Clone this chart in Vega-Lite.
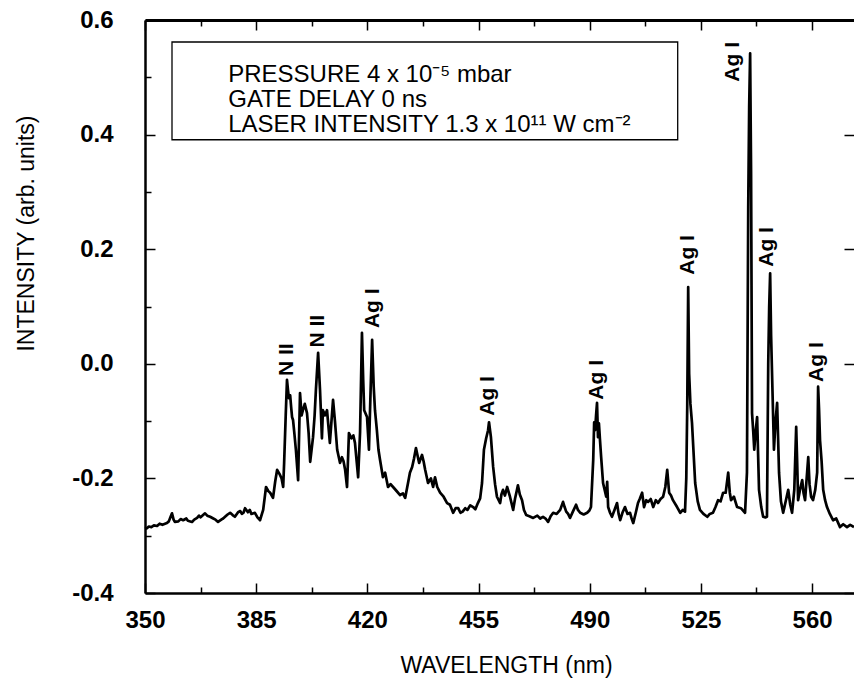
{
  "$schema": "https://vega.github.io/schema/vega-lite/v6.json",
  "width": 709,
  "height": 573,
  "autosize": {"type": "none"},
  "padding": {"left": 145, "top": 20, "right": 0, "bottom": 91},
  "background": "white",
  "config": {
    "view": {"stroke": null},
    "axis": {"grid": false, "tickColor": "black", "domainColor": "black", "labelColor": "black", "titleColor": "black", "labelFlush": false, "labelOverlap": false}
  },
  "datasets": {
    "spectrum": [
      {"nm": 350.0, "v": -0.288}, {"nm": 350.6, "v": -0.287}, {"nm": 351.2, "v": -0.284}, {"nm": 352.0, "v": -0.285},
      {"nm": 352.8, "v": -0.282}, {"nm": 353.8, "v": -0.283}, {"nm": 354.6, "v": -0.279}, {"nm": 355.5, "v": -0.281},
      {"nm": 356.9, "v": -0.278}, {"nm": 357.5, "v": -0.275}, {"nm": 358.0, "v": -0.268}, {"nm": 358.5, "v": -0.261},
      {"nm": 359.0, "v": -0.272}, {"nm": 359.4, "v": -0.276}, {"nm": 360.5, "v": -0.275}, {"nm": 361.2, "v": -0.271},
      {"nm": 362.0, "v": -0.273}, {"nm": 363.0, "v": -0.27}, {"nm": 363.5, "v": -0.274}, {"nm": 364.8, "v": -0.276},
      {"nm": 365.5, "v": -0.272}, {"nm": 366.4, "v": -0.269}, {"nm": 367.0, "v": -0.265}, {"nm": 367.5, "v": -0.268},
      {"nm": 368.9, "v": -0.261}, {"nm": 369.6, "v": -0.265}, {"nm": 370.5, "v": -0.267}, {"nm": 371.5, "v": -0.27},
      {"nm": 372.2, "v": -0.272}, {"nm": 373.0, "v": -0.276}, {"nm": 374.0, "v": -0.272}, {"nm": 374.6, "v": -0.27},
      {"nm": 375.2, "v": -0.267}, {"nm": 376.0, "v": -0.263}, {"nm": 376.8, "v": -0.26}, {"nm": 377.6, "v": -0.264},
      {"nm": 378.3, "v": -0.267}, {"nm": 379.3, "v": -0.259}, {"nm": 380.0, "v": -0.257}, {"nm": 380.5, "v": -0.262},
      {"nm": 381.0, "v": -0.26}, {"nm": 381.5, "v": -0.252}, {"nm": 382.4, "v": -0.259}, {"nm": 383.0, "v": -0.255},
      {"nm": 383.5, "v": -0.262}, {"nm": 384.6, "v": -0.26}, {"nm": 385.4, "v": -0.268}, {"nm": 386.2, "v": -0.273},
      {"nm": 387.2, "v": -0.255}, {"nm": 388.1, "v": -0.215}, {"nm": 388.8, "v": -0.222}, {"nm": 389.4, "v": -0.225},
      {"nm": 390.3, "v": -0.234}, {"nm": 391.0, "v": -0.205}, {"nm": 391.6, "v": -0.185}, {"nm": 392.5, "v": -0.194},
      {"nm": 393.0, "v": -0.2}, {"nm": 393.5, "v": -0.215}, {"nm": 393.8, "v": -0.173}, {"nm": 394.3, "v": -0.09},
      {"nm": 394.7, "v": -0.028}, {"nm": 395.0, "v": -0.045}, {"nm": 395.3, "v": -0.06}, {"nm": 395.7, "v": -0.055},
      {"nm": 396.0, "v": -0.075}, {"nm": 396.3, "v": -0.093}, {"nm": 396.6, "v": -0.098}, {"nm": 397.0, "v": -0.12},
      {"nm": 397.5, "v": -0.15}, {"nm": 398.2, "v": -0.203}, {"nm": 398.8, "v": -0.051}, {"nm": 399.3, "v": -0.09},
      {"nm": 399.7, "v": -0.081}, {"nm": 400.3, "v": -0.07}, {"nm": 401.0, "v": -0.086}, {"nm": 401.5, "v": -0.12},
      {"nm": 402.0, "v": -0.171}, {"nm": 402.9, "v": -0.128}, {"nm": 403.4, "v": -0.09}, {"nm": 403.8, "v": -0.046},
      {"nm": 404.5, "v": 0.019}, {"nm": 405.1, "v": -0.046}, {"nm": 405.7, "v": -0.13}, {"nm": 406.0, "v": -0.081},
      {"nm": 406.7, "v": -0.09}, {"nm": 407.3, "v": -0.081}, {"nm": 408.2, "v": -0.138}, {"nm": 409.2, "v": -0.063},
      {"nm": 409.8, "v": -0.1}, {"nm": 410.5, "v": -0.15}, {"nm": 411.4, "v": -0.173}, {"nm": 412.0, "v": -0.163},
      {"nm": 412.5, "v": -0.17}, {"nm": 413.0, "v": -0.185}, {"nm": 413.6, "v": -0.215}, {"nm": 414.2, "v": -0.121},
      {"nm": 415.0, "v": -0.13}, {"nm": 415.6, "v": -0.125}, {"nm": 416.1, "v": -0.138}, {"nm": 417.1, "v": -0.198},
      {"nm": 417.7, "v": -0.12}, {"nm": 418.3, "v": 0.054}, {"nm": 418.7, "v": -0.03}, {"nm": 419.0, "v": -0.081},
      {"nm": 419.9, "v": -0.093}, {"nm": 420.5, "v": -0.15}, {"nm": 421.0, "v": -0.05}, {"nm": 421.5, "v": 0.042},
      {"nm": 422.0, "v": -0.04}, {"nm": 422.4, "v": -0.081}, {"nm": 423.0, "v": -0.116}, {"nm": 423.5, "v": -0.15},
      {"nm": 424.0, "v": -0.168}, {"nm": 424.9, "v": -0.198}, {"nm": 425.6, "v": -0.19}, {"nm": 426.5, "v": -0.215},
      {"nm": 427.3, "v": -0.21}, {"nm": 428.1, "v": -0.215}, {"nm": 429.2, "v": -0.222}, {"nm": 430.3, "v": -0.229},
      {"nm": 431.2, "v": -0.226}, {"nm": 431.9, "v": -0.234}, {"nm": 432.8, "v": -0.208}, {"nm": 433.4, "v": -0.19},
      {"nm": 434.1, "v": -0.18}, {"nm": 434.7, "v": -0.165}, {"nm": 435.3, "v": -0.147}, {"nm": 435.8, "v": -0.16},
      {"nm": 436.3, "v": -0.173}, {"nm": 437.2, "v": -0.159}, {"nm": 437.7, "v": -0.17}, {"nm": 438.2, "v": -0.185},
      {"nm": 439.1, "v": -0.208}, {"nm": 440.0, "v": -0.2}, {"nm": 440.7, "v": -0.215}, {"nm": 441.3, "v": -0.198},
      {"nm": 442.0, "v": -0.215}, {"nm": 442.9, "v": -0.225}, {"nm": 444.0, "v": -0.232}, {"nm": 445.1, "v": -0.243},
      {"nm": 446.0, "v": -0.246}, {"nm": 447.0, "v": -0.26}, {"nm": 447.8, "v": -0.252}, {"nm": 448.6, "v": -0.252},
      {"nm": 449.3, "v": -0.26}, {"nm": 450.0, "v": -0.258}, {"nm": 450.8, "v": -0.252}, {"nm": 451.5, "v": -0.255},
      {"nm": 452.4, "v": -0.247}, {"nm": 453.3, "v": -0.25}, {"nm": 454.0, "v": -0.254}, {"nm": 454.8, "v": -0.243},
      {"nm": 455.5, "v": -0.235}, {"nm": 456.1, "v": -0.208}, {"nm": 456.7, "v": -0.15}, {"nm": 457.4, "v": -0.13},
      {"nm": 458.0, "v": -0.116}, {"nm": 458.3, "v": -0.102}, {"nm": 458.9, "v": -0.128}, {"nm": 459.6, "v": -0.18},
      {"nm": 460.2, "v": -0.21}, {"nm": 460.8, "v": -0.232}, {"nm": 461.8, "v": -0.243}, {"nm": 462.2, "v": -0.228},
      {"nm": 462.7, "v": -0.22}, {"nm": 463.3, "v": -0.23}, {"nm": 464.0, "v": -0.215}, {"nm": 464.9, "v": -0.232},
      {"nm": 465.9, "v": -0.255}, {"nm": 466.5, "v": -0.235}, {"nm": 467.1, "v": -0.22}, {"nm": 467.4, "v": -0.212},
      {"nm": 468.0, "v": -0.228}, {"nm": 468.7, "v": -0.238}, {"nm": 469.3, "v": -0.255}, {"nm": 470.0, "v": -0.264},
      {"nm": 471.0, "v": -0.266}, {"nm": 472.2, "v": -0.269}, {"nm": 473.5, "v": -0.265}, {"nm": 474.4, "v": -0.27},
      {"nm": 475.3, "v": -0.267}, {"nm": 476.1, "v": -0.27}, {"nm": 476.9, "v": -0.276}, {"nm": 477.7, "v": -0.266},
      {"nm": 478.5, "v": -0.26}, {"nm": 479.6, "v": -0.262}, {"nm": 480.7, "v": -0.255}, {"nm": 481.6, "v": -0.241},
      {"nm": 482.1, "v": -0.25}, {"nm": 482.6, "v": -0.258}, {"nm": 483.2, "v": -0.262}, {"nm": 483.8, "v": -0.269},
      {"nm": 484.7, "v": -0.258}, {"nm": 485.7, "v": -0.246}, {"nm": 486.3, "v": -0.255}, {"nm": 487.0, "v": -0.26},
      {"nm": 488.1, "v": -0.263}, {"nm": 489.2, "v": -0.26}, {"nm": 489.9, "v": -0.256}, {"nm": 490.4, "v": -0.25},
      {"nm": 491.1, "v": -0.168}, {"nm": 491.4, "v": -0.102}, {"nm": 491.7, "v": -0.116}, {"nm": 492.0, "v": -0.09},
      {"nm": 492.3, "v": -0.068}, {"nm": 492.6, "v": -0.128}, {"nm": 492.9, "v": -0.104}, {"nm": 493.2, "v": -0.13},
      {"nm": 493.6, "v": -0.163}, {"nm": 494.2, "v": -0.208}, {"nm": 495.2, "v": -0.232}, {"nm": 495.5, "v": -0.206},
      {"nm": 495.8, "v": -0.25}, {"nm": 496.4, "v": -0.26}, {"nm": 497.0, "v": -0.267}, {"nm": 497.8, "v": -0.255},
      {"nm": 498.6, "v": -0.243}, {"nm": 499.1, "v": -0.262}, {"nm": 499.6, "v": -0.273}, {"nm": 500.3, "v": -0.26},
      {"nm": 501.1, "v": -0.25}, {"nm": 501.9, "v": -0.262}, {"nm": 502.7, "v": -0.26}, {"nm": 503.2, "v": -0.27},
      {"nm": 503.7, "v": -0.278}, {"nm": 504.5, "v": -0.26}, {"nm": 505.2, "v": -0.243}, {"nm": 505.8, "v": -0.235},
      {"nm": 506.5, "v": -0.225}, {"nm": 507.1, "v": -0.25}, {"nm": 507.8, "v": -0.238}, {"nm": 508.4, "v": -0.241},
      {"nm": 509.2, "v": -0.236}, {"nm": 510.0, "v": -0.25}, {"nm": 510.8, "v": -0.238}, {"nm": 511.5, "v": -0.243},
      {"nm": 512.3, "v": -0.236}, {"nm": 513.1, "v": -0.232}, {"nm": 513.8, "v": -0.215}, {"nm": 514.4, "v": -0.185},
      {"nm": 515.0, "v": -0.225}, {"nm": 515.6, "v": -0.23}, {"nm": 516.2, "v": -0.238}, {"nm": 517.5, "v": -0.25},
      {"nm": 518.5, "v": -0.26}, {"nm": 519.3, "v": -0.255}, {"nm": 520.0, "v": -0.258}, {"nm": 520.4, "v": -0.2},
      {"nm": 520.7, "v": -0.075}, {"nm": 521.0, "v": 0.134}, {"nm": 521.3, "v": -0.017}, {"nm": 521.7, "v": -0.07},
      {"nm": 522.2, "v": -0.103}, {"nm": 523.2, "v": -0.208}, {"nm": 524.0, "v": -0.24}, {"nm": 524.7, "v": -0.255},
      {"nm": 525.8, "v": -0.262}, {"nm": 527.0, "v": -0.267}, {"nm": 527.8, "v": -0.262}, {"nm": 528.8, "v": -0.26},
      {"nm": 529.6, "v": -0.25}, {"nm": 530.4, "v": -0.238}, {"nm": 531.2, "v": -0.24}, {"nm": 532.0, "v": -0.225},
      {"nm": 532.8, "v": -0.225}, {"nm": 533.6, "v": -0.19}, {"nm": 534.1, "v": -0.225}, {"nm": 534.5, "v": -0.238},
      {"nm": 535.4, "v": -0.232}, {"nm": 536.4, "v": -0.25}, {"nm": 537.6, "v": -0.252}, {"nm": 538.9, "v": -0.26},
      {"nm": 539.5, "v": -0.19}, {"nm": 539.9, "v": 0.274}, {"nm": 540.2, "v": 0.45}, {"nm": 540.5, "v": 0.542},
      {"nm": 540.8, "v": 0.333}, {"nm": 541.1, "v": -0.086}, {"nm": 541.5, "v": -0.12}, {"nm": 541.8, "v": -0.15},
      {"nm": 542.2, "v": -0.12}, {"nm": 542.7, "v": -0.093}, {"nm": 543.3, "v": -0.22}, {"nm": 544.0, "v": -0.25},
      {"nm": 544.6, "v": -0.267}, {"nm": 545.3, "v": -0.268}, {"nm": 545.8, "v": -0.267}, {"nm": 546.2, "v": 0.001},
      {"nm": 546.5, "v": 0.1}, {"nm": 546.8, "v": 0.158}, {"nm": 547.1, "v": 0.05}, {"nm": 547.4, "v": -0.017},
      {"nm": 548.0, "v": -0.15}, {"nm": 548.5, "v": -0.1}, {"nm": 549.0, "v": -0.068}, {"nm": 549.6, "v": -0.19},
      {"nm": 550.2, "v": -0.24}, {"nm": 550.9, "v": -0.26}, {"nm": 551.7, "v": -0.24}, {"nm": 552.5, "v": -0.22},
      {"nm": 553.1, "v": -0.245}, {"nm": 553.7, "v": -0.26}, {"nm": 554.4, "v": -0.22}, {"nm": 555.0, "v": -0.11},
      {"nm": 555.3, "v": -0.17}, {"nm": 555.6, "v": -0.238}, {"nm": 556.2, "v": -0.22}, {"nm": 556.9, "v": -0.203},
      {"nm": 557.3, "v": -0.225}, {"nm": 557.8, "v": -0.238}, {"nm": 558.3, "v": -0.2}, {"nm": 558.8, "v": -0.163},
      {"nm": 559.2, "v": -0.21}, {"nm": 559.7, "v": -0.232}, {"nm": 560.3, "v": -0.238}, {"nm": 561.0, "v": -0.22},
      {"nm": 561.6, "v": -0.19}, {"nm": 561.9, "v": -0.04}, {"nm": 562.2, "v": -0.08}, {"nm": 562.5, "v": -0.133},
      {"nm": 563.0, "v": -0.17}, {"nm": 563.5, "v": -0.22}, {"nm": 564.1, "v": -0.238}, {"nm": 564.7, "v": -0.25},
      {"nm": 565.6, "v": -0.262}, {"nm": 566.6, "v": -0.273}, {"nm": 567.6, "v": -0.27}, {"nm": 568.8, "v": -0.285},
      {"nm": 569.8, "v": -0.28}, {"nm": 571.0, "v": -0.285}, {"nm": 572.0, "v": -0.281}, {"nm": 573.2, "v": -0.285}
    ],
    "lines": [
      {"nm": 394.7, "v": 0.007, "label": "N II"},
      {"nm": 404.5, "v": 0.057, "label": "N II"},
      {"nm": 421.8, "v": 0.097, "label": "Ag I"},
      {"nm": 458.0, "v": -0.056, "label": "Ag I"},
      {"nm": 492.3, "v": -0.028, "label": "Ag I"},
      {"nm": 520.8, "v": 0.19, "label": "Ag I"},
      {"nm": 535.1, "v": 0.527, "label": "Ag I"},
      {"nm": 545.8, "v": 0.204, "label": "Ag I"},
      {"nm": 561.6, "v": 0.003, "label": "Ag I"}
    ],
    "box": [
      {"x1": 358.5, "x2": 517.7, "y1": 0.5616, "y2": 0.391}
    ],
    "boxtext": [
      {"nm": 376.2, "v": 0.504, "t": "PRESSURE 4 x 10⁻⁵ mbar"},
      {"nm": 376.2, "v": 0.4603, "t": "GATE DELAY 0 ns"},
      {"nm": 376.2, "v": 0.4167, "t": "LASER INTENSITY 1.3 x 10¹¹ W cm⁻²"}
    ]
  },
  "layer": [
    {
      "data": {"name": "spectrum"},
      "mark": {"type": "line", "color": "black", "strokeWidth": 2.7, "strokeJoin": "round"},
      "encoding": {
        "x": {
          "field": "nm", "type": "quantitative",
          "scale": {"domain": [350, 573.2], "nice": false, "zero": false},
          "axis": {
            "orient": "bottom", "values": [350, 385, 420, 455, 490, 525, 560],
            "tickSize": -10, "tickWidth": 1.5, "domainWidth": 2.5,
            "labelFont": "Liberation Sans", "labelFontWeight": "bold", "labelFontSize": 24, "labelPadding": 25,
            "title": "WAVELENGTH (nm)", "titleFont": "Liberation Sans", "titleFontWeight": "normal", "titleFontSize": 23, "titlePadding": 22, "titleX": 361
          }
        },
        "y": {
          "field": "v", "type": "quantitative",
          "scale": {"domain": [-0.4, 0.6], "nice": false, "zero": false},
          "axis": {
            "orient": "left", "values": [-0.4, -0.2, 0, 0.2, 0.4, 0.6],
            "labelExpr": "replace(format(datum.value, '.1f'), '\u2212', '-')",
            "tickSize": -10, "tickWidth": 1.5, "domainWidth": 2.5,
            "labelFont": "Liberation Sans", "labelFontWeight": "bold", "labelFontSize": 24, "labelPadding": 42,
            "title": "INTENSITY (arb. units)", "titleFont": "Liberation Sans", "titleFontWeight": "normal", "titleFontSize": 23, "titlePadding": 33, "titleY": 213
          }
        }
      }
    },
    {
      "data": {"name": "lines"},
      "mark": {"type": "text", "angle": 270, "align": "center", "baseline": "middle", "font": "Liberation Sans", "fontWeight": "bold", "fontSize": 21, "color": "black"},
      "encoding": {
        "x": {
          "field": "nm", "type": "quantitative",
          "scale": {"domain": [350, 573.2], "nice": false, "zero": false},
          "axis": {"orient": "bottom", "values": [367.5, 402.5, 437.5, 472.5, 507.5, 542.5], "tickSize": -6, "tickWidth": 1.5, "labels": false, "domain": false, "title": null}
        },
        "y": {
          "field": "v", "type": "quantitative",
          "scale": {"domain": [-0.4, 0.6], "nice": false, "zero": false},
          "axis": {"orient": "left", "values": [-0.3, -0.1, 0.1, 0.3, 0.5], "tickSize": -6, "tickWidth": 1.5, "labels": false, "domain": false, "title": null}
        },
        "text": {"field": "label"}
      }
    },
    {
      "data": {"name": "box"},
      "mark": {"type": "rect", "fill": null, "fillOpacity": 0, "stroke": "black", "strokeWidth": 1.3},
      "encoding": {
        "x": {
          "field": "x1", "type": "quantitative",
          "scale": {"domain": [350, 573.2], "nice": false, "zero": false},
          "axis": {"orient": "top", "values": [350, 385, 420, 455, 490, 525, 560], "tickSize": -10, "tickWidth": 1.5, "domainWidth": 3, "labels": false, "title": null}
        },
        "x2": {"field": "x2"},
        "y": {
          "field": "y1", "type": "quantitative",
          "scale": {"domain": [-0.4, 0.6], "nice": false, "zero": false},
          "axis": {"orient": "right", "values": [-0.4, -0.2, 0, 0.2, 0.4, 0.6], "tickSize": -10, "tickWidth": 1.5, "domain": false, "labels": false, "title": null}
        },
        "y2": {"field": "y2"}
      }
    },
    {
      "data": {"name": "boxtext"},
      "mark": {"type": "text", "align": "left", "baseline": "middle", "font": "Liberation Sans", "fontSize": 24, "color": "black"},
      "encoding": {
        "x": {
          "field": "nm", "type": "quantitative",
          "scale": {"domain": [350, 573.2], "nice": false, "zero": false},
          "axis": {"orient": "top", "values": [367.5, 402.5, 437.5, 472.5, 507.5, 542.5], "tickSize": -6, "tickWidth": 1.5, "labels": false, "domain": false, "title": null}
        },
        "y": {
          "field": "v", "type": "quantitative",
          "scale": {"domain": [-0.4, 0.6], "nice": false, "zero": false},
          "axis": null
        },
        "text": {"field": "t"}
      }
    }
  ],
  "resolve": {"axis": {"x": "independent", "y": "independent"}}
}
